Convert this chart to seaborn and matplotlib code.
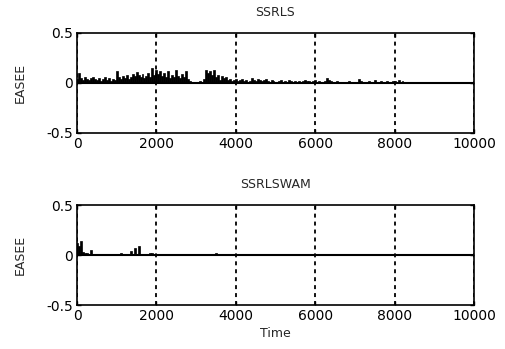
import numpy as np
import pandas as pd
import matplotlib
matplotlib.use("Agg")
import matplotlib.pyplot as plt
import seaborn as sns

# ---- data ----
ssrls_time = list(range(0, 9000, 50))
ssrls_easee = [
    0.04, 0.10, 0.05, 0.03, 0.06, 0.04, 0.03, 0.05, 0.06, 0.04,
    0.03, 0.05, 0.02, 0.04, 0.06, 0.03, 0.05, 0.02, 0.04, 0.03,
    0.12, 0.06, 0.04, 0.07, 0.05, 0.08, 0.04, 0.06, 0.09, 0.07,
    0.11, 0.08, 0.06, 0.09, 0.05, 0.07, 0.10, 0.06, 0.15, 0.08,
    0.13, 0.09, 0.12, 0.07, 0.10, 0.06, 0.12, 0.05, 0.08, 0.06,
    0.13, 0.07, 0.05, 0.09, 0.06, 0.12, 0.04, 0.02, 0.01, 0.01,
    0.01, 0.01, 0.02, 0.01, 0.04, 0.13, 0.10, 0.12, 0.08, 0.13,
    0.06, 0.08, 0.03, 0.07, 0.05, 0.06, 0.03, 0.04, 0.02, 0.03,
    0.04, 0.02, 0.03, 0.04, 0.02, 0.03, 0.01, 0.02, 0.05, 0.03,
    0.02, 0.04, 0.03, 0.02, 0.03, 0.04, 0.02, 0.01, 0.03, 0.02,
    0.01, 0.01, 0.02, 0.03, 0.01, 0.02, 0.01, 0.03, 0.02, 0.01,
    0.02, 0.01, 0.02, 0.01, 0.02, 0.03, 0.02, 0.02, 0.01, 0.02,
    0.03, 0.01, 0.02, 0.01, 0.01, 0.02, 0.05, 0.03, 0.02, 0.01,
    0.01, 0.02, 0.01, 0.01, 0.01, 0.01, 0.01, 0.02, 0.01, 0.01,
    0.01, 0.01, 0.04, 0.02, 0.00, 0.01, 0.01, 0.02, 0.01, 0.01,
    0.03, 0.01, 0.01, 0.02, 0.01, 0.00, 0.02, 0.01, 0.01, 0.02,
    0.02, 0.01, 0.03, 0.01, 0.02, 0.01, 0.00, 0.01, 0.00, 0.00,
    0.01, 0.00, 0.01, 0.01, 0.01, 0.00, 0.00, 0.00, 0.00, 0.00,
]

swam_time = [0, 50, 100, 150, 200, 250, 300, 350, 1100, 1350, 1450, 1550, 1850, 1900, 3500]
swam_easee = [0.12, 0.09, 0.14, 0.03, 0.02, 0.02, 0.01, 0.05, 0.02, 0.04, 0.07, 0.09, 0.02, 0.02, 0.02]

titles = ["SSRLS", "SSRLSWAM"]
x_ticks = [0, 2000, 4000, 6000, 8000, 10000]
y_ticks = [-0.5, 0, 0.5]
y_ticklabels = ["-0.5", "0", "0.5"]

sns.set_style("white")
plt.rcParams['font.family'] = ['DejaVu Sans']

fig = plt.figure(figsize=(5.05, 3.49), dpi=100)
ax1 = fig.add_axes([0.1525, 0.619, 0.786, 0.2865])
ax2 = fig.add_axes([0.1525, 0.126, 0.786, 0.2865])

series = [(ssrls_time, ssrls_easee), (swam_time, swam_easee)]
for ax, (t, v), title in zip([ax1, ax2], series, titles):
    df = pd.DataFrame({"Time": t, "EASEE": v})
    sns.barplot(data=df, x="Time", y="EASEE", native_scale=True, color="black",
                width=1.0, errorbar=None, ax=ax, edgecolor="black", linewidth=0.5,
                saturation=1)
    ax.axhline(0, color="black", lw=1.5, zorder=3)
    ax.set_xlim(0, 10000)
    ax.set_ylim(-0.5, 0.5)
    ax.set_xticks(x_ticks)
    ax.set_xticklabels([str(x) for x in x_ticks])
    ax.set_yticks(y_ticks)
    ax.set_yticklabels(y_ticklabels)
    ax.xaxis.grid(True, linestyle=(0, (2.2, 2.2)), color="black", lw=1.3)
    ax.yaxis.grid(False)
    ax.set_axisbelow(False)
    for s in ax.spines.values():
        s.set_color("black")
        s.set_linewidth(1.2)
        s.set_visible(True)
    ax.tick_params(direction="in", length=3, width=1, colors="black",
                   labelsize=10, top=True, right=True, bottom=True, left=True, pad=3)
    ax.set_title(title, fontsize=9, pad=12)
    ax.set_ylabel("EASEE", fontsize=9, labelpad=14)
    ax.set_xlabel("")

ax2.set_xlabel("Time", fontsize=9, labelpad=3)

fig.savefig("out.png", dpi=100)
